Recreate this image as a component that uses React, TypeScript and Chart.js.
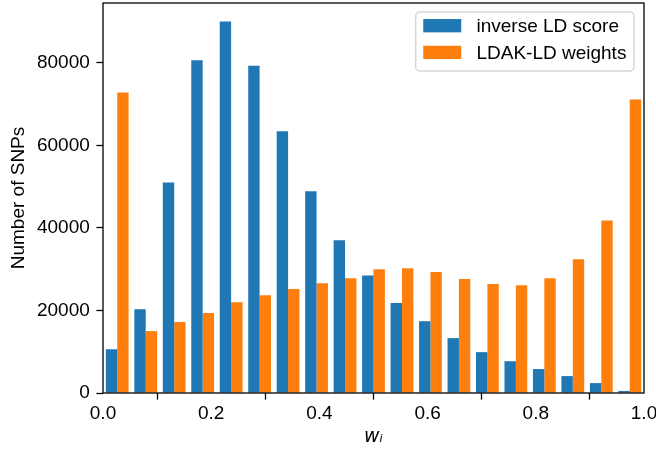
import { useEffect, useRef } from 'react';
import { Chart, registerables } from 'chart.js';

Chart.register(...registerables);

// ---- data (19 bins over [0, 1]) ----
const binCount = 19;
const inverseLDScore = [10600, 20300, 51000, 80600, 90000, 79300, 63400, 48900, 37000, 28500, 21800, 17400, 13300, 9900, 7700, 5800, 4100, 2400, 500];
const ldakWeights = [72800, 15000, 17200, 19400, 22000, 23700, 25200, 26600, 27800, 30000, 30200, 29300, 27600, 26400, 26100, 27800, 32400, 41800, 71100];
const seriesLabels = ['inverse LD score', 'LDAK-LD weights'];
const xTickValues = [0, 0.2, 0.4, 0.6, 0.8, 1.0];
const yTickValues = [0, 20000, 40000, 60000, 80000];
const xTitle = 'w\u1D62';
const yTitle = 'Number of SNPs';

const binCenters = inverseLDScore.map((_, i) => (i + 0.5) / binCount);

const FONT_PX = 19;
const FONT_FAMILY = '"Liberation Sans", Arial, Helvetica, sans-serif';
const BLUE = '#1f77b4';
const ORANGE = '#ff7f0e';
const LINE_W = 1.3;
const TICK_LEN = 6.6;

const framePlugin = {
  id: 'frame',
  afterDatasetsDraw(chart: any) {
    const { ctx, chartArea } = chart;
    const { left, top, right, bottom } = chartArea;
    ctx.save();
    ctx.strokeStyle = '#000';
    ctx.lineWidth = LINE_W;
    ctx.strokeRect(left, top, right - left, bottom - top);
    ctx.restore();
  },
};

const boxLegendPlugin = {
  id: 'boxLegend',
  afterDraw(chart: any) {
    const { ctx, chartArea } = chart;
    const ds = chart.data.datasets;
    ctx.save();
    ctx.font = `${FONT_PX}px ${FONT_FAMILY}`;
    const pad = 0.4 * FONT_PX;
    const handleW = 2 * FONT_PX;
    const handleH = 0.7 * FONT_PX;
    const textPad = 0.8 * FONT_PX;
    const rowH = 26.7;
    const textW = Math.max(...ds.map((d: any) => ctx.measureText(d.label).width));
    const w = pad * 2 + handleW + textPad + textW;
    const h = 59;
    const x = chartArea.right - 10 - w;
    const y = chartArea.top + 9;
    ctx.beginPath();
    (ctx as any).roundRect(x, y, w, h, 4);
    ctx.fillStyle = 'rgba(255,255,255,0.8)';
    ctx.fill();
    ctx.strokeStyle = 'rgba(204,204,204,0.8)';
    ctx.lineWidth = 1.5;
    ctx.stroke();
    ds.forEach((d: any, i: number) => {
      const cy = y + 14.7 + i * rowH;
      ctx.fillStyle = d.backgroundColor;
      ctx.fillRect(x + pad, cy - 1 - handleH / 2, handleW, handleH);
      ctx.fillStyle = '#000';
      ctx.textBaseline = 'middle';
      ctx.textAlign = 'left';
      ctx.fillText(d.label, x + pad + handleW + textPad, cy);
    });
    ctx.restore();
  },
};

export default function App() {
  const ref = useRef<HTMLCanvasElement>(null);

  useEffect(() => {
    if (!ref.current) return;
    const tickFont = { family: FONT_FAMILY, size: FONT_PX };
    const chart = new Chart(ref.current, {
      type: 'bar',
      data: {
        datasets: [
          {
            label: seriesLabels[0],
            data: inverseLDScore.map((v, i) => ({ x: binCenters[i], y: v })),
            backgroundColor: BLUE,
            borderWidth: 0,
            barPercentage: 1,
            categoryPercentage: 0.8,
          },
          {
            label: seriesLabels[1],
            data: ldakWeights.map((v, i) => ({ x: binCenters[i], y: v })),
            backgroundColor: ORANGE,
            borderWidth: 0,
            barPercentage: 1,
            categoryPercentage: 0.8,
          },
        ],
      } as any,
      options: {
        responsive: false,
        devicePixelRatio: 1,
        animation: false,
        layout: { padding: { top: 3, right: 12, left: 0, bottom: 0 } },
        plugins: {
          legend: { display: false },
          tooltip: { enabled: false },
        },
        scales: {
          x: {
            type: 'linear',
            min: 0,
            max: 1,
            offset: false,
            afterFit: (s: any) => {
              s.height = 61;
              s.paddingLeft = 0;
              s.paddingRight = 0;
              s.paddingTop = 0;
              s.paddingBottom = 0;
            },
            afterBuildTicks: (s: any) => {
              s.ticks = xTickValues.map((v) => ({ value: v }));
            },
            grid: {
              drawOnChartArea: false,
              drawTicks: true,
              tickLength: TICK_LEN,
              tickWidth: LINE_W,
              tickColor: '#000',
            },
            border: { display: false },
            ticks: {
              color: '#000',
              font: tickFont,
              padding: 3,
              maxRotation: 0,
              autoSkip: false,
              callback: (v: any) => Number(v).toFixed(1),
            },
            title: {
              display: true,
              text: xTitle,
              color: '#000',
              font: { family: '"DejaVu Sans", sans-serif', size: FONT_PX, style: 'italic' },
              padding: { top: 0, bottom: 5.6 },
            },
          },
          y: {
            type: 'linear',
            min: 0,
            max: 94500,
            afterFit: (s: any) => {
              s.width = 103;
              s.paddingLeft = 0;
              s.paddingRight = 0;
              s.paddingTop = 0;
              s.paddingBottom = 0;
            },
            afterBuildTicks: (s: any) => {
              s.ticks = yTickValues.map((v) => ({ value: v }));
            },
            grid: {
              drawOnChartArea: false,
              drawTicks: true,
              tickLength: TICK_LEN,
              tickWidth: LINE_W,
              tickColor: '#000',
            },
            border: { display: false },
            ticks: {
              color: '#000',
              font: tickFont,
              padding: 6.6,
              autoSkip: false,
              callback: (v: any) => String(v),
            },
            title: {
              display: true,
              text: yTitle,
              color: '#000',
              font: { family: FONT_FAMILY, size: FONT_PX },
              padding: { top: 7, bottom: 0 },
            },
          },
        },
      } as any,
      plugins: [framePlugin, boxLegendPlugin],
    });
    return () => chart.destroy();
  }, []);

  return (
    <div style={{ position: 'absolute', left: 0, top: 0, width: 656, height: 454 }}>
      <canvas ref={ref} width={656} height={454} style={{ display: 'block', width: 656, height: 454 }} />
    </div>
  );
}
